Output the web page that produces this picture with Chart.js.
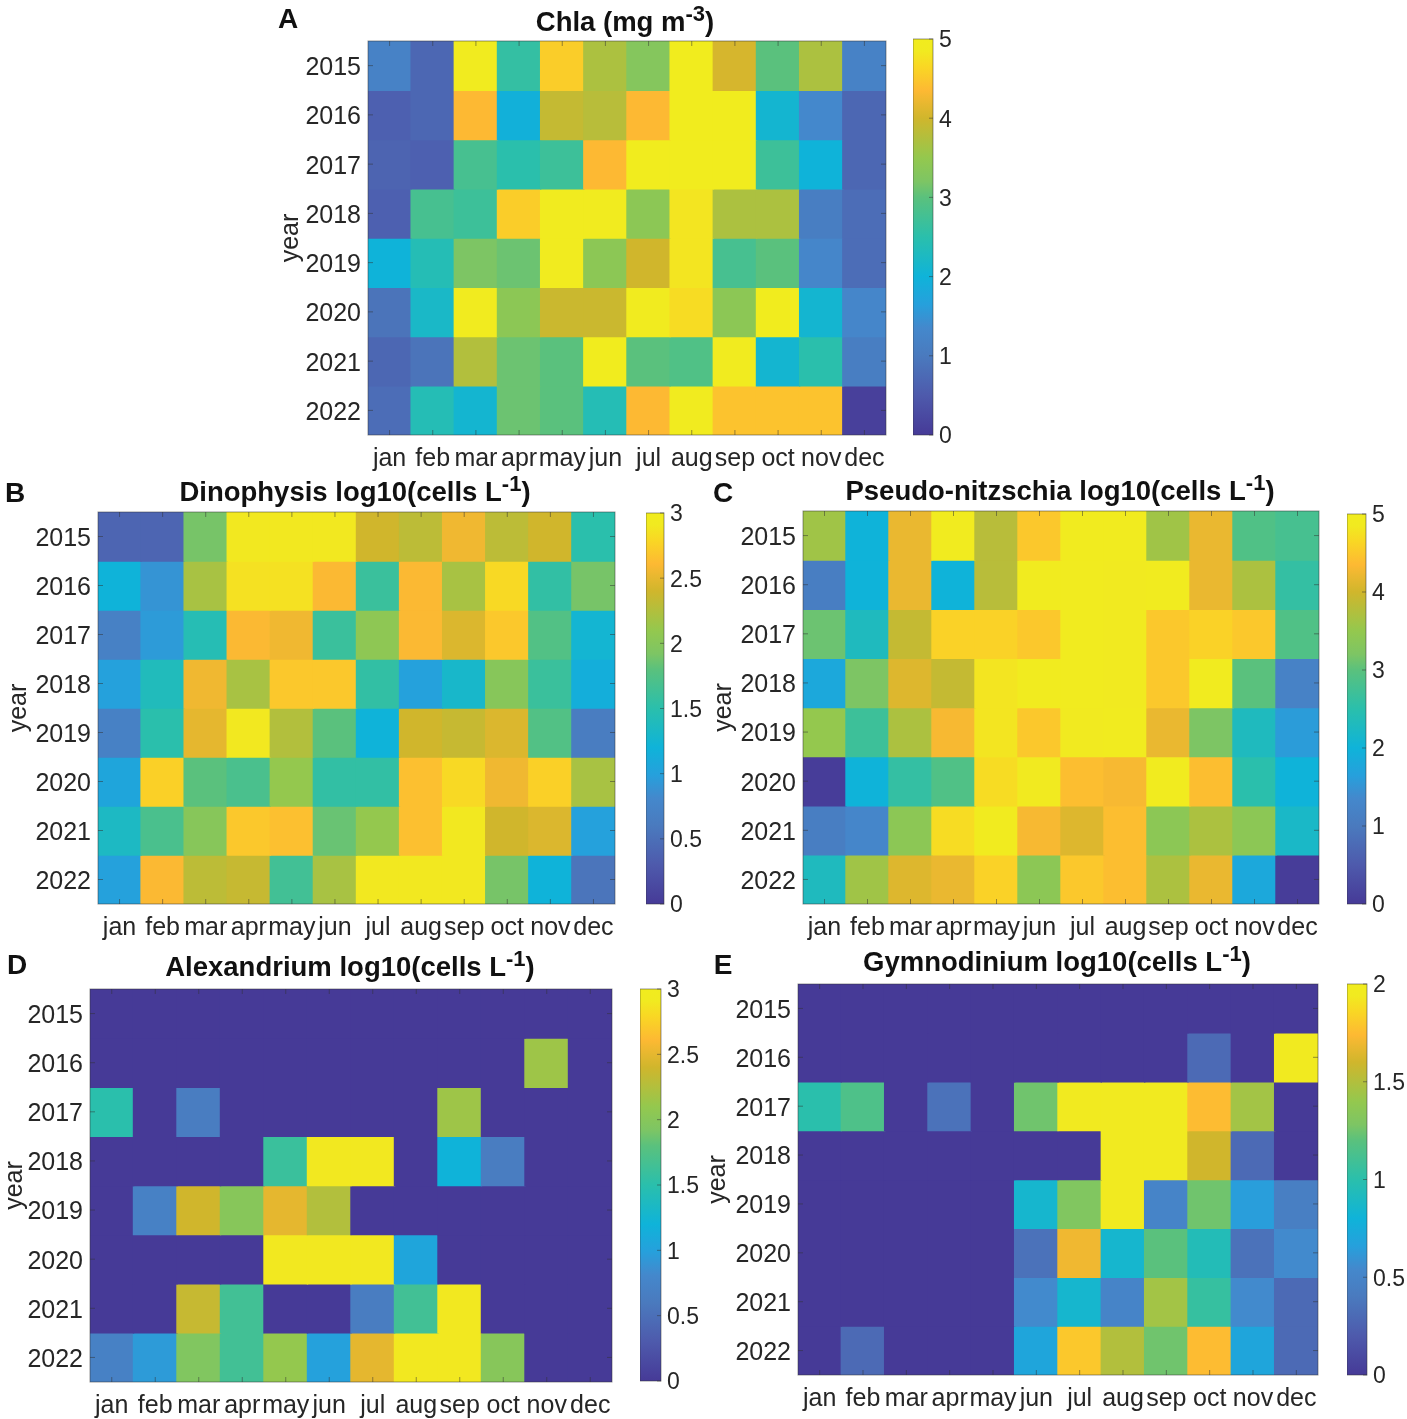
<!DOCTYPE html>
<html>
<head>
<meta charset="utf-8">
<script src="https://cdn.jsdelivr.net/npm/chart.js@4"></script>
<style>
body { margin: 0; background: #fff; width: 1407px; height: 1419px; position: relative; overflow: hidden; font-family: "Liberation Sans", sans-serif; }
canvas { position: absolute; }
.title, .letter { position: absolute; font-weight: bold; color: #111; white-space: nowrap; transform: translate(-50%, -50%); line-height: 1; }
.title { font-size: 27.5px; }
.letter { font-size: 28px; }
sup { font-size: 22px; line-height: 0; vertical-align: 10px; }
</style>
</head>
<body>
<script>
const months = ['jan', 'feb', 'mar', 'apr', 'may', 'jun', 'jul', 'aug', 'sep', 'oct', 'nov', 'dec'];
const years = [2015, 2016, 2017, 2018, 2019, 2020, 2021, 2022];

const chla = [
  [1.2, 0.7, 4.9, 2.6, 4.55, 3.7, 3.3, 5, 4.05, 3.0, 3.7, 1.2],
  [0.6, 0.7, 4.35, 1.95, 3.9, 3.8, 4.35, 5, 5, 2.1, 1.35, 0.7],
  [0.65, 0.6, 2.8, 2.5, 2.7, 4.35, 5, 5, 5, 2.7, 2.0, 0.7],
  [0.6, 2.8, 2.7, 4.55, 4.9, 4.9, 3.4, 4.8, 3.7, 3.7, 1.1, 0.8],
  [2.0, 2.4, 3.2, 3.1, 4.9, 3.4, 4.0, 4.8, 2.8, 3.0, 1.3, 0.8],
  [0.9, 2.2, 4.9, 3.4, 3.95, 3.95, 4.9, 4.7, 3.4, 5, 2.1, 1.3],
  [0.7, 0.9, 3.75, 3.1, 3.0, 5, 3.0, 2.9, 4.9, 2.1, 2.5, 1.1],
  [0.8, 2.4, 2.1, 3.1, 3.0, 2.4, 4.35, 4.9, 4.45, 4.45, 4.45, 0.1]
];
const dinophysis = [
  [0.4, 0.4, 1.9, 2.9, 2.9, 2.9, 2.4, 2.3, 2.55, 2.3, 2.4, 1.5],
  [1.2, 0.9, 2.2, 2.85, 2.85, 2.6, 1.6, 2.6, 2.2, 2.8, 1.55, 1.9],
  [0.7, 0.95, 1.45, 2.6, 2.55, 1.6, 2.05, 2.6, 2.45, 2.7, 1.75, 1.25],
  [1.0, 1.4, 2.55, 2.2, 2.7, 2.7, 1.55, 1.0, 1.3, 2.0, 1.6, 1.15],
  [0.7, 1.5, 2.5, 2.9, 2.25, 1.8, 1.2, 2.4, 2.35, 2.45, 1.75, 0.65],
  [1.05, 2.75, 1.8, 1.7, 2.1, 1.55, 1.55, 2.65, 2.8, 2.55, 2.75, 2.2],
  [1.35, 1.7, 2.0, 2.7, 2.65, 1.85, 2.1, 2.65, 2.9, 2.4, 2.45, 1.0],
  [1.0, 2.6, 2.3, 2.35, 1.65, 2.2, 2.9, 2.9, 2.9, 1.9, 1.2, 0.55]
];
const pseudoNitzschia = [
  [3.6, 2.0, 4.2, 4.9, 3.8, 4.5, 4.95, 4.95, 3.6, 4.2, 2.9, 2.8],
  [1.1, 2.0, 4.2, 2.0, 3.8, 4.9, 4.9, 4.85, 4.9, 4.2, 3.7, 2.6],
  [3.1, 2.3, 3.9, 4.6, 4.6, 4.5, 4.9, 4.85, 4.5, 4.6, 4.5, 2.9],
  [1.8, 3.2, 4.1, 3.9, 4.8, 4.9, 4.9, 4.85, 4.5, 4.9, 3.0, 1.2],
  [3.5, 2.7, 3.7, 4.3, 4.8, 4.5, 4.85, 4.9, 4.2, 3.2, 2.3, 1.6],
  [0.05, 2.0, 2.6, 2.9, 4.7, 4.85, 4.4, 4.3, 4.9, 4.4, 2.5, 2.0],
  [1.1, 1.3, 3.4, 4.7, 4.9, 4.3, 4.1, 4.4, 3.4, 3.7, 3.4, 2.2],
  [2.3, 3.6, 4.1, 4.2, 4.6, 3.4, 4.5, 4.4, 3.7, 4.2, 1.8, 0.05]
];
const alexandrium = [
  [0, 0, 0, 0, 0, 0, 0, 0, 0, 0, 0, 0],
  [0, 0, 0, 0, 0, 0, 0, 0, 0, 0, 2.15, 0],
  [1.5, 0, 0.65, 0, 0, 0, 0, 0, 2.15, 0, 0, 0],
  [0, 0, 0, 0, 1.6, 2.9, 2.9, 0, 1.2, 0.65, 0, 0],
  [0, 0.7, 2.4, 2.0, 2.5, 2.25, 0, 0, 0, 0, 0, 0],
  [0, 0, 0, 0, 2.9, 2.9, 2.9, 1.05, 0, 0, 0, 0],
  [0, 0, 2.35, 1.65, 0, 0, 0.65, 1.65, 2.9, 0, 0, 0],
  [0.7, 0.95, 1.95, 1.65, 2.1, 1.0, 2.5, 2.9, 2.9, 2.0, 0, 0]
];
const gymnodinium = [
  [0, 0, 0, 0, 0, 0, 0, 0, 0, 0, 0, 0],
  [0, 0, 0, 0, 0, 0, 0, 0, 0, 0.3, 0, 1.95],
  [1.0, 1.15, 0, 0.35, 0, 1.25, 1.95, 1.95, 1.95, 1.75, 1.45, 0],
  [0, 0, 0, 0, 0, 0, 0, 1.95, 1.95, 1.6, 0.3, 0],
  [0, 0, 0, 0, 0, 0.85, 1.3, 1.95, 0.5, 1.25, 0.65, 0.45],
  [0, 0, 0, 0, 0, 0.35, 1.7, 0.85, 1.2, 0.95, 0.35, 0.55],
  [0, 0, 0, 0, 0, 0.55, 0.85, 0.5, 1.45, 1.05, 0.55, 0.3],
  [0, 0.3, 0, 0, 0, 0.7, 1.8, 1.5, 1.25, 1.75, 0.7, 0.3]
];

// colour map
const mapStops = [
  [0, 70, 58, 151], [0.1, 78, 90, 172], [0.2, 74, 122, 190], [0.27, 68, 136, 204], [0.33, 38, 160, 220],
  [0.4, 15, 179, 217], [0.5, 42, 191, 172], [0.6, 90, 193, 125], [0.64, 125, 197, 100], [0.7, 148, 200, 78],
  [0.8, 208, 182, 44], [0.87, 253, 185, 51], [0.93, 249, 215, 36], [0.97, 241, 234, 32], [1, 241, 236, 30]
];

function colorAt(f) {
  f = Math.min(1, Math.max(0, f));
  for (let i = 1; i < mapStops.length; i++) {
    if (f <= mapStops[i][0]) {
      const a = mapStops[i - 1], b = mapStops[i];
      const t = (f - a[0]) / (b[0] - a[0]);
      return 'rgb(' + [1, 2, 3].map(k => Math.round(a[k] + (b[k] - a[k]) * t)).join(',') + ')';
    }
  }
  return 'rgb(241,236,30)';
}

Chart.defaults.font.family = '"Liberation Sans", sans-serif';
Chart.defaults.color = '#262626';
Chart.defaults.animation = false;

// box and small inward ticks like the original axes
const boxTicks = {
  id: 'boxTicks',
  afterDraw(chart, args, opts) {
    const c = chart.ctx, a = chart.chartArea;
    c.save();
    c.strokeStyle = 'rgba(50,50,50,0.5)';
    c.lineWidth = 1;
    c.strokeRect(a.left, a.top, a.right - a.left, a.bottom - a.top);
    if (opts.bar) {
      chart.scales.y.ticks.forEach(t => {
        const p = chart.scales.y.getPixelForValue(t.value);
        c.beginPath(); c.moveTo(a.right, p); c.lineTo(a.right - 4, p); c.stroke();
      });
    } else {
      const len = 5;
      months.forEach((m, i) => {
        const p = chart.scales.x.getPixelForValue(i);
        c.beginPath();
        c.moveTo(p, a.top); c.lineTo(p, a.top + len);
        c.moveTo(p, a.bottom); c.lineTo(p, a.bottom - len);
        c.stroke();
      });
      years.forEach((y, i) => {
        const p = chart.scales.y.getPixelForValue(i + 0.5);
        c.beginPath();
        c.moveTo(a.left, p); c.lineTo(a.left + len, p);
        c.moveTo(a.right, p); c.lineTo(a.right - len, p);
        c.stroke();
      });
    }
    c.restore();
  }
};
Chart.register(boxTicks);

function addCanvas(left, top, w, h) {
  const cv = document.createElement('canvas');
  cv.width = w; cv.height = h;
  cv.style.left = left + 'px'; cv.style.top = top + 'px';
  cv.style.width = w + 'px'; cv.style.height = h + 'px';
  document.body.appendChild(cv);
  return cv.getContext('2d');
}

function addText(cls, html, x, y) {
  const d = document.createElement('div');
  d.className = cls; d.innerHTML = html;
  d.style.left = x + 'px'; d.style.top = y + 'px';
  document.body.appendChild(d);
}

function heatmap(values, max, plot, yearX) {
  const left = yearX, top = plot.top - 6;
  const yW = plot.left - left, xH = 44;
  const ctx = addCanvas(left, top, plot.right - left + 2, plot.bottom - plot.top + 6 + xH);
  new Chart(ctx, {
    type: 'bar',
    data: {
      labels: months,
      datasets: years.map((yr, i) => ({
        label: String(yr),
        data: values[i].map(() => [i, i + 1]),
        backgroundColor: values[i].map(v => colorAt(v / max)),
        borderWidth: 0,
        inflateAmount: 0.7,
        grouped: false,
        barPercentage: 1,
        categoryPercentage: 1
      }))
    },
    options: {
      responsive: false,
      layout: { padding: { top: 6, right: 2 } },
      plugins: { legend: { display: false }, tooltip: { enabled: false }, boxTicks: {} },
      scales: {
        x: {
          grid: { display: false, drawTicks: false },
          border: { display: false },
          afterFit(s) { s.height = xH; s.paddingLeft = 0; s.paddingRight = 0; },
          ticks: { font: { size: 25 }, padding: 9, autoSkip: false, maxRotation: 0, minRotation: 0 }
        },
        y: {
          min: 0, max: 8, reverse: true,
          grid: { display: false, drawTicks: false },
          border: { display: false },
          title: { display: true, text: 'year', font: { size: 25 }, padding: 0 },
          afterBuildTicks(s) { s.ticks = years.map((y, i) => ({ value: i + 0.5 })); },
          afterFit(s) { s.width = yW; s.paddingTop = 0; s.paddingBottom = 0; },
          ticks: { font: { size: 25 }, padding: 7, labelOffset: 2.5, autoSkip: false, callback: v => years[v - 0.5] }
        }
      }
    }
  });
}

function colorbar(max, step, bar) {
  const pad = 16;
  const ctx = addCanvas(bar.left, bar.top - pad, bar.right - bar.left + 46, bar.bottom - bar.top + 2 * pad);
  new Chart(ctx, {
    type: 'bar',
    data: {
      labels: ['cb'],
      datasets: [{
        data: [[0, max]],
        barPercentage: 1,
        categoryPercentage: 1,
        backgroundColor(c) {
          const a = c.chart.chartArea;
          if (!a) return '#fff';
          const g = c.chart.ctx.createLinearGradient(0, a.bottom, 0, a.top);
          mapStops.forEach(s => g.addColorStop(s[0], colorAt(s[0])));
          return g;
        }
      }]
    },
    options: {
      responsive: false,
      layout: { padding: { top: pad, bottom: pad } },
      plugins: { legend: { display: false }, tooltip: { enabled: false }, boxTicks: { bar: true } },
      scales: {
        x: { display: false },
        y: {
          position: 'right', min: 0, max: max,
          grid: { display: false, drawTicks: false },
          border: { display: false },
          afterFit(s) { s.width = 46; s.paddingTop = 0; s.paddingBottom = 0; },
          ticks: { stepSize: step, font: { size: 23 }, padding: 6, labelOffset: 2, callback: v => String(v) }
        }
      }
    }
  });
}

heatmap(chla, 5, { left: 368, right: 886, top: 41, bottom: 435 }, 276);
colorbar(5, 1, { left: 913, right: 933, top: 39, bottom: 435 });
addText('title', 'Chla (mg m<sup>-3</sup>)', 625, 22);
addText('letter', 'A', 288, 19);

heatmap(dinophysis, 3, { left: 98, right: 615, top: 512, bottom: 904 }, 4);
colorbar(3, 0.5, { left: 646, right: 664, top: 513, bottom: 904 });
addText('title', 'Dinophysis log10(cells L<sup>-1</sup>)', 355, 492);
addText('letter', 'B', 15, 493);

heatmap(pseudoNitzschia, 5, { left: 803, right: 1319, top: 511, bottom: 904 }, 709);
colorbar(5, 1, { left: 1347, right: 1366, top: 514, bottom: 904 });
addText('title', 'Pseudo-nitzschia log10(cells L<sup>-1</sup>)', 1060, 491);
addText('letter', 'C', 723, 493);

heatmap(alexandrium, 3, { left: 90, right: 612, top: 989, bottom: 1382 }, 0);
colorbar(3, 0.5, { left: 640, right: 661, top: 989, bottom: 1381 });
addText('title', 'Alexandrium log10(cells L<sup>-1</sup>)', 350, 967);
addText('letter', 'D', 17, 965);

heatmap(gymnodinium, 2, { left: 798, right: 1318, top: 984, bottom: 1375 }, 703);
colorbar(2, 0.5, { left: 1347, right: 1367, top: 984, bottom: 1375 });
addText('title', 'Gymnodinium log10(cells L<sup>-1</sup>)', 1057, 962);
addText('letter', 'E', 723, 965);
</script>
</body>
</html>
